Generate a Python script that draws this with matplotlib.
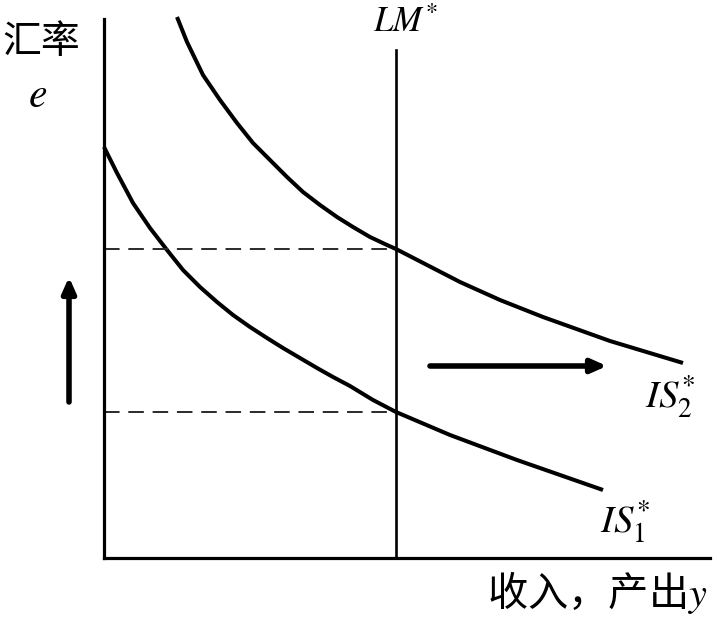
import matplotlib.pyplot as plt

plt.rcParams['font.family'] = ['Noto Sans CJK SC', 'DejaVu Sans']
plt.rcParams['mathtext.fontset'] = 'stix'

# curve points (income y, exchange rate e)
is1_y = [0, 13, 29, 46, 63, 79, 96, 113, 129, 146, 163, 179, 196, 213, 229, 246, 269, 292, 346, 413, 499]
is1_e = [411, 385, 355, 330, 308, 288, 271, 256, 243, 231, 220, 210, 200, 190, 181, 172, 158, 146, 123, 98, 68]

is2_y = [73, 83, 99, 116, 133, 149, 166, 183, 199, 216, 233, 249, 266, 283, 292, 356, 396, 439, 506, 579]
is2_e = [541, 516, 483, 458, 435, 415, 398, 381, 366, 353, 341, 331, 321, 313, 309, 276, 258, 241, 217, 195]

lm_y = 292          # position of LM*
lm_top = 508
e_low = 146         # equilibrium rates
e_high = 309

fig = plt.figure(figsize=(7.26, 6.22), dpi=100)
ax = fig.add_axes([104 / 726, 64 / 622, 606 / 726, 539 / 622])
ax.set_xlim(0, 606)
ax.set_ylim(0, 539)
for s in ['top', 'right']:
    ax.spines[s].set_visible(False)
for s in ['left', 'bottom']:
    ax.spines[s].set_linewidth(2.3)
ax.set_xticks([])
ax.set_yticks([])
ax.patch.set_alpha(0)

# curves
ax.plot(is1_y, is1_e, color='black', lw=2.9, solid_capstyle='butt', solid_joinstyle='round', clip_on=False)
ax.plot(is2_y, is2_e, color='black', lw=2.9, solid_capstyle='butt', solid_joinstyle='round', clip_on=False)
ax.plot([lm_y, lm_y], [0, lm_top], color='black', lw=1.9)

# dashed guides
for e in [e_low, e_high]:
    ax.plot([0, lm_y], [e, e], color='#2a2a2a', lw=1.4, linestyle=(0, (8, 4.5)))

# arrows
arrow = dict(arrowstyle='-|>,head_length=0.9,head_width=0.4', lw=4, color='black',
             shrinkA=0, shrinkB=0)
ax.annotate('', xy=(-35, 281), xytext=(-35, 156), arrowprops=arrow, annotation_clip=False)
ax.annotate('', xy=(503, 192), xytext=(326, 192), arrowprops=arrow, annotation_clip=False)

# labels
ax.text(-63, 516, '汇率', fontsize=28, ha='center', va='center')
ax.text(-66, 451, r'$e$', fontsize=30, ha='center', va='baseline')
ax.text(301, 526, r'$LM^{*}$', fontsize=25, ha='center', va='baseline')
ax.text(541, 150, r'$IS_2^{*}$', fontsize=28, ha='left', va='baseline')
ax.text(496, 25, r'$IS_1^{*}$', fontsize=28, ha='left', va='baseline')
ax.text(383, -34, '收入，产出$y$', fontsize=29, ha='left', va='center')

fig.savefig('out.png', dpi=100)
